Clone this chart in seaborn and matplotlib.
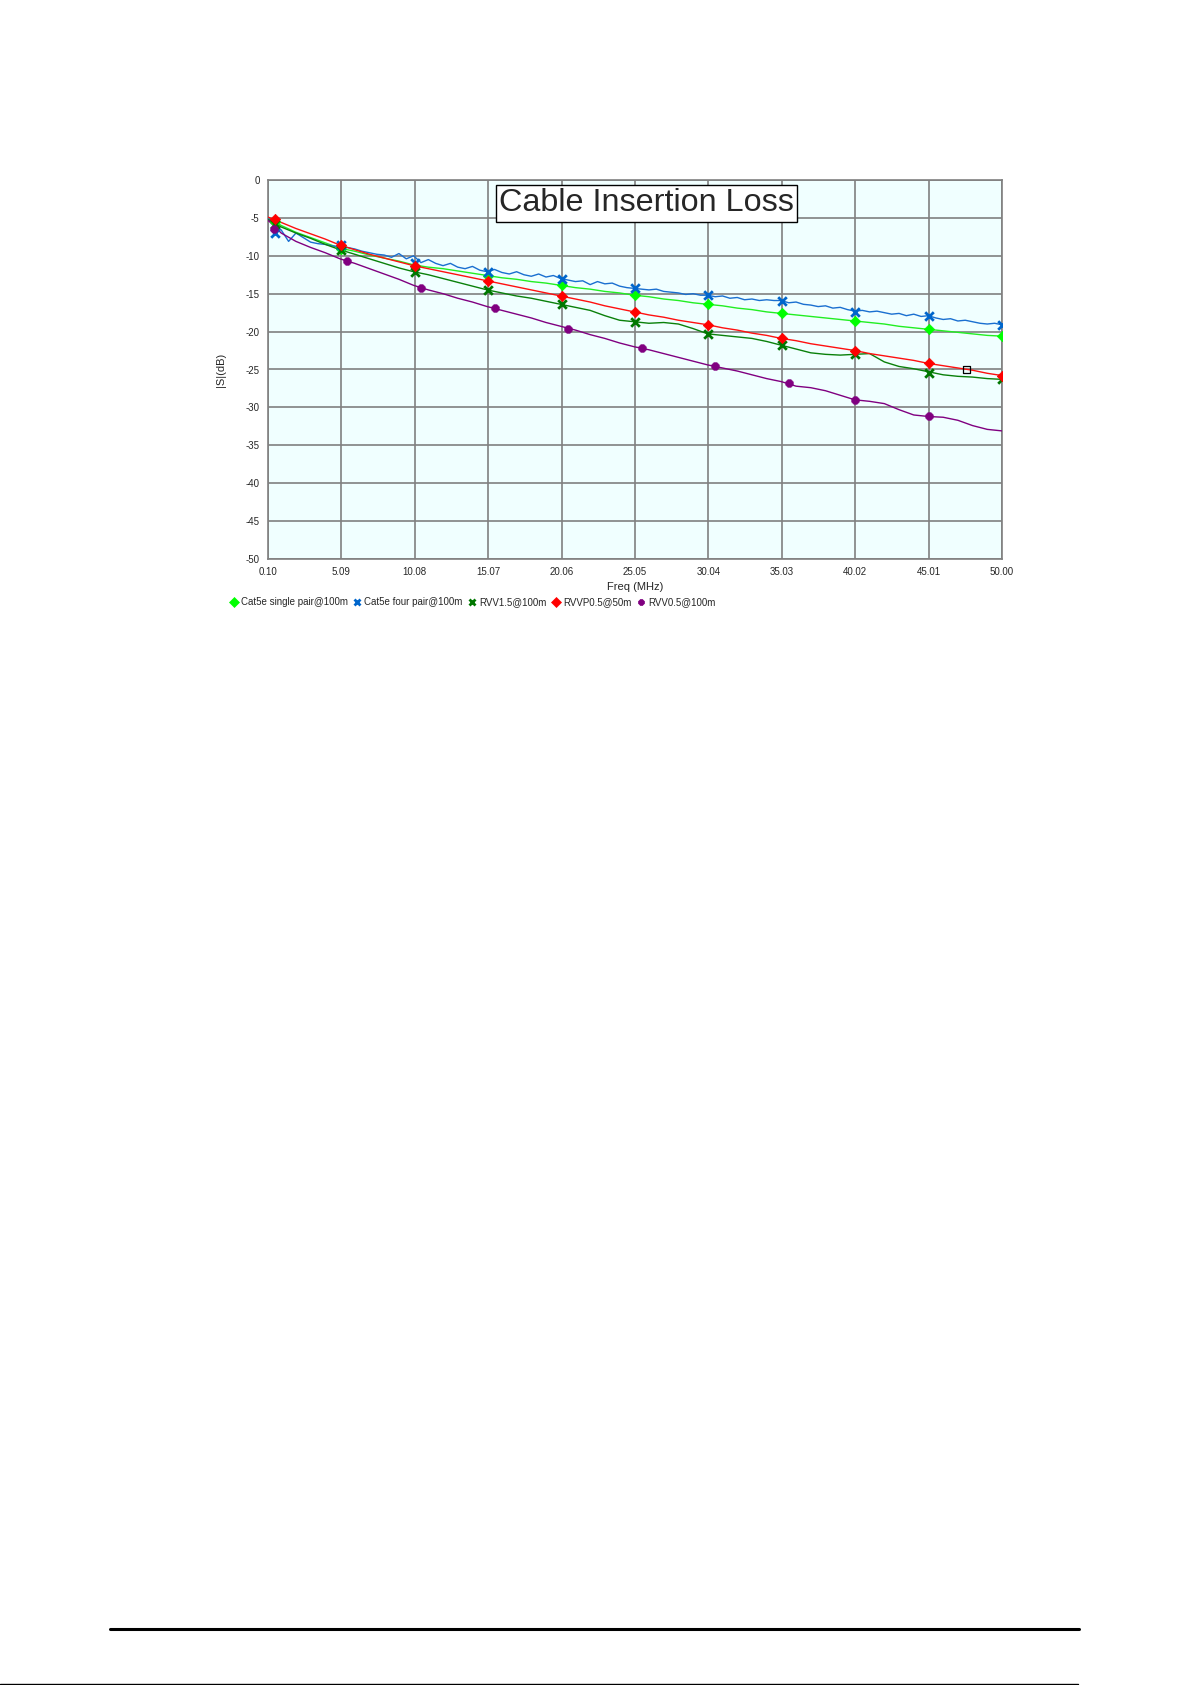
import numpy as np
import pandas as pd
import seaborn as sns
import matplotlib
matplotlib.use("Agg")
import matplotlib.pyplot as plt
from matplotlib.lines import Line2D

# frequency grid (MHz) for the smooth traces
freq = [0.1] + list(range(1, 51))

cat5e_single = [-5.0, -6.0, -6.9, -7.6, -8.3, -9.0, -9.4, -9.9, -10.3, -10.7,
                -11.2, -11.5, -11.7, -12.0, -12.3, -12.6, -12.9, -13.1, -13.4, -13.6,
                -13.9, -14.2, -14.4, -14.7, -14.9, -15.2, -15.4, -15.7, -15.9, -16.2,
                -16.4, -16.6, -16.9, -17.1, -17.4, -17.6, -17.8, -18.0, -18.2, -18.4,
                -18.6, -18.8, -19.0, -19.3, -19.5, -19.7, -19.9, -20.1, -20.3, -20.5,
                -20.6]
rvvp05 = [-4.9, -5.6, -6.4, -7.1, -7.8, -8.6, -9.2, -9.8, -10.3, -10.8,
          -11.3, -11.7, -12.1, -12.5, -12.9, -13.3, -13.7, -14.1, -14.5, -14.9,
          -15.3, -15.7, -16.1, -16.6, -17.0, -17.4, -17.8, -18.1, -18.5, -18.8,
          -19.1, -19.5, -19.8, -20.2, -20.5, -20.9, -21.2, -21.6, -21.9, -22.2,
          -22.5, -22.9, -23.2, -23.5, -23.8, -24.2, -24.5, -24.8, -25.1, -25.5,
          -25.8]
rvv15 = [-5.2, -6.2, -7.0, -7.7, -8.5, -9.2, -9.8, -10.4, -11.0, -11.6,
         -12.1, -12.5, -13.0, -13.5, -14.0, -14.5, -14.9, -15.3, -15.6, -16.0,
         -16.4, -16.8, -17.2, -17.9, -18.5, -18.7, -18.9, -18.8, -19.0, -19.6,
         -20.3, -20.5, -20.7, -20.9, -21.3, -21.8, -22.3, -22.8, -23.0, -23.1,
         -23.0, -22.9, -24.0, -24.6, -24.9, -25.3, -25.7, -25.9, -26.0, -26.2,
         -26.3]
rvv05 = [-5.3, -7.0, -8.1, -8.9, -9.6, -10.4, -11.0, -11.7, -12.4, -13.1,
         -13.9, -14.5, -15.0, -15.6, -16.1, -16.7, -17.2, -17.7, -18.2, -18.8,
         -19.3, -19.8, -20.4, -20.9, -21.5, -22.0, -22.4, -22.9, -23.4, -23.9,
         -24.4, -24.8, -25.2, -25.7, -26.2, -26.6, -27.2, -27.4, -27.8, -28.4,
         -29.0, -29.2, -29.5, -30.3, -31.0, -31.2, -31.3, -31.7, -32.4, -32.9,
         -33.1]

# the four pair trace is jagged, read at a finer step
freq_fine = [0.1] + [i / 2 for i in range(1, 101)]
cat5e_four = [-5.0,
              -5.8, -6.6, -8.1, -7.0, -7.6, -8.2, -8.4, -8.5, -8.7, -8.8,
              -8.9, -9.1, -9.4, -9.6, -9.8, -9.9, -10.2, -9.7, -10.4, -10.0,
              -10.9, -10.5, -11.0, -11.3, -11.0, -11.5, -11.7, -11.4, -11.9, -12.1,
              -11.8, -12.2, -12.4, -12.1, -12.5, -12.7, -12.4, -12.8, -12.6, -13.0,
              -13.2, -13.4, -13.3, -13.8, -13.4, -13.7, -13.6, -14.0, -14.2, -14.3,
              -14.4, -14.5, -14.4, -14.7, -14.8, -14.9, -15.1, -15.0, -15.2, -15.2,
              -15.4, -15.3, -15.6, -15.5, -15.8, -15.7, -15.9, -15.8, -15.9, -15.9,
              -16.2, -16.1, -16.4, -16.5, -16.7, -16.6, -16.9, -16.8, -17.1, -17.3,
              -17.2, -17.4, -17.3, -17.5, -17.7, -17.6, -17.9, -17.7, -18.0, -17.9,
              -18.2, -18.4, -18.3, -18.6, -18.5, -18.7, -18.9, -19.0, -18.9, -19.1]

# marker positions
mk_x = [0.6, 5.09, 10.08, 15.07, 20.06, 25.05, 30.04, 35.03, 40.02, 45.01, 50.0]
mk_single = [-5.6, -9.1, -11.3, -12.6, -13.9, -15.2, -16.4, -17.6, -18.6, -19.7, -20.6]
mk_four = [-7.0, -8.6, -10.9, -12.2, -13.0, -14.3, -15.2, -15.9, -17.4, -17.95, -19.1]
mk_rvv15 = [-5.8, -9.25, -12.1, -14.5, -16.4, -18.7, -20.3, -21.8, -22.9, -25.4, -26.3]
mk_rvvp = [-5.2, -8.6, -11.35, -13.3, -15.35, -17.4, -19.15, -20.9, -22.55, -24.2, -25.8]
mk_x_rvv05 = [0.5, 5.5, 10.5, 15.5, 20.5, 25.5, 30.5, 35.5, 40.02, 45.01]
mk_rvv05 = [-6.4, -10.7, -14.2, -16.9, -19.6, -22.2, -24.6, -26.8, -29.0, -31.2]
cursor_x = [47.6]
cursor_y = [-25.0]

names = ["Cat5e single pair@100m", "Cat5e four pair@100m", "RVV1.5@100m",
         "RVVP0.5@50m", "RVV0.5@100m"]
x_ticks = ["0.10", "5.09", "10.08", "15.07", "20.06", "25.05", "30.04",
           "35.03", "40.02", "45.01", "50.00"]
y_ticks = [0, -5, -10, -15, -20, -25, -30, -35, -40, -45, -50]

line_cols = ["#22ee22", "#1a6fd0", "#0a800a", "#ff1010", "#800080"]
mk_cols = ["#00ff00", "#0066cc", "#007700", "#ff0000", "#800080"]
mk_shapes = ["D", "x", "x", "D", "8"]

sns.set_style("white")
plt.rcParams["font.family"] = ["Liberation Sans", "DejaVu Sans"]

fig = plt.figure(figsize=(11.92, 16.85), dpi=100)
ax = fig.add_axes([268 / 1192, 1 - 559 / 1685, 734 / 1192, 379 / 1685])
ax.set_facecolor("#f0ffff")

df = pd.concat([
    pd.DataFrame({"f": freq, "db": cat5e_single, "s": names[0]}),
    pd.DataFrame({"f": freq_fine, "db": cat5e_four, "s": names[1]}),
    pd.DataFrame({"f": freq, "db": rvv15, "s": names[2]}),
    pd.DataFrame({"f": freq, "db": rvvp05, "s": names[3]}),
    pd.DataFrame({"f": freq, "db": rvv05, "s": names[4]}),
], ignore_index=True)
sns.lineplot(data=df, x="f", y="db", hue="s", palette=dict(zip(names, line_cols)),
             estimator=None, sort=False, linewidth=1.0, legend=False, ax=ax, zorder=3)

mk_data = [(mk_x, mk_single), (mk_x, mk_four), (mk_x, mk_rvv15),
           (mk_x, mk_rvvp), (mk_x_rvv05, mk_rvv05)]
for (mx, my), c, m in zip(mk_data, mk_cols, mk_shapes):
    if m == "x":
        sns.scatterplot(x=mx, y=my, marker=m, color=c, s=38, linewidth=2.0, ax=ax, zorder=4)
    else:
        sns.scatterplot(x=mx, y=my, marker=m, color=c, s=28 if m == "D" else 34,
                        edgecolor=c, linewidth=0.5, ax=ax, zorder=4)
sns.scatterplot(x=cursor_x, y=cursor_y, marker="s", s=28, facecolor="none",
                edgecolor="black", linewidth=0.9, ax=ax, zorder=5)

ax.set_xlim(0.1, 50.0)
ax.set_ylim(-50, 0)
ax.set_xticks(np.linspace(0.1, 50.0, len(x_ticks)))
ax.set_xticklabels(x_ticks)
ax.set_yticks(y_ticks)
ax.set_yticklabels([str(v) for v in y_ticks])
ax.tick_params(axis="both", length=0, labelsize=7, pad=6)
ax.grid(True, color="#808080", linewidth=1.2)
ax.set_axisbelow(True)
for sp in ax.spines.values():
    sp.set_color("#808080")
    sp.set_linewidth(1.2)
ax.set_xlabel("Freq (MHz)", fontsize=8, labelpad=3)
ax.set_ylabel("|S|(dB)", fontsize=8, labelpad=14)

ax.text(0.5157, 0.938, "Cable Insertion Loss", transform=ax.transAxes,
        ha="center", va="center", fontsize=23.3, zorder=6,
        bbox=dict(boxstyle="square,pad=0.1", facecolor="white", edgecolor="black", linewidth=1))

handles = [Line2D([], [], linestyle="none", marker=m, color=c, markersize=5,
                  markeredgewidth=2 if m == "x" else 0.5)
           for m, c in zip(mk_shapes, mk_cols)]
fig.legend(handles, names, loc="center left", bbox_to_anchor=(230 / 1192, 1 - 602 / 1685),
           ncol=5, frameon=False, fontsize=7, handlelength=0.8, handletextpad=0.3,
           columnspacing=0.6, borderaxespad=0, borderpad=0)

# page rules at the bottom
fig.add_artist(Line2D([110 / 1192, 1079 / 1192], [1 - 1629 / 1685] * 2, color="black", linewidth=2.2))
fig.add_artist(Line2D([0, 1078 / 1192], [1 - 1684 / 1685] * 2, color="black", linewidth=1.0))

fig.savefig("out.png", dpi=100)
